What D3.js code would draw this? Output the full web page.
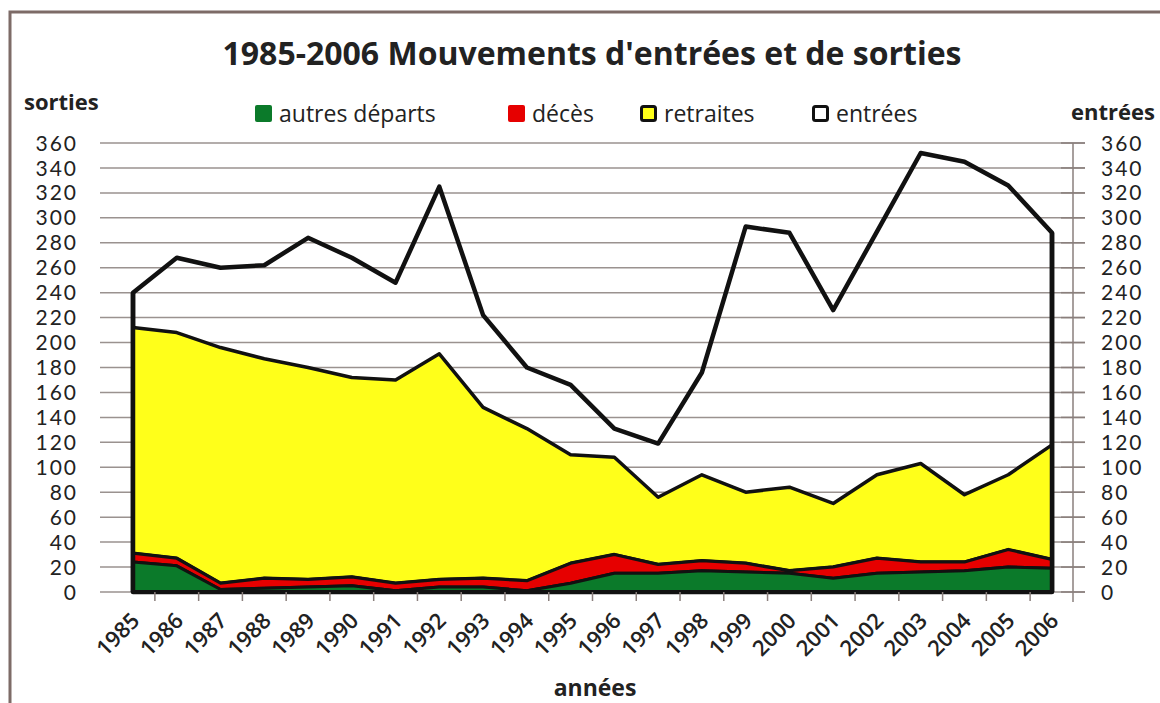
<!DOCTYPE html>
<html>
<head>
<meta charset="utf-8">
<script src="https://cdn.jsdelivr.net/npm/d3@7"></script>
<style>
  body { margin: 0; background: #fff; }
  text { font-family: "Open Sans", Lato, sans-serif; fill: #222; }
  text.num { font-family: Lato, "Open Sans", sans-serif; }
</style>
</head>
<body>
<div id="chart"></div>
<script>
// data
const years = [1985, 1986, 1987, 1988, 1989, 1990, 1991, 1992, 1993, 1994, 1995,
  1996, 1997, 1998, 1999, 2000, 2001, 2002, 2003, 2004, 2005, 2006];
const autresDeparts = [24, 21, 2, 3, 4, 5, 1, 4, 4, 1, 7, 15, 15, 17, 16, 15, 11, 15, 16, 17, 20, 19];
const deces = [7, 6, 5, 8, 6, 7, 6, 6, 7, 8, 16, 15, 7, 8, 7, 2, 9, 12, 8, 7, 14, 7];
const retraites = [181, 181, 189, 176, 170, 160, 163, 181, 137, 122, 87, 78, 54, 69, 57, 67, 51, 67, 79, 54, 60, 92];
const entrees = [240, 268, 260, 262, 284, 268, 248, 325, 222, 180, 166, 131, 119, 176, 293, 288, 226, 289, 352, 345, 326, 288];
const yTicks = d3.range(0, 361, 20);

const width = 1160;
const height = 703;

const svg = d3.select("#chart").append("svg")
  .attr("width", width)
  .attr("height", height)
  .attr("viewBox", [0, 0, width, height]);

// frame
svg.append("path")
  .attr("d", "M10,703 L10,12 L1160,12")
  .attr("fill", "none")
  .attr("stroke", "#7d6b67")
  .attr("stroke-width", 3);

const x = d3.scalePoint().domain(years).range([133, 1052]);
const y = d3.scaleLinear().domain([0, 360]).range([592, 143]);
const step = x.step();

// gridlines
svg.append("g")
  .selectAll("line")
  .data(yTicks)
  .join("line")
  .attr("x1", 100)
  .attr("x2", 1085)
  .attr("y1", d => y(d))
  .attr("y2", d => y(d))
  .attr("stroke", "#9a928f")
  .attr("stroke-width", 1.5);

// entrées: outline only
const entreeArea = d3.area()
  .x((d, i) => x(years[i]))
  .y0(y(0))
  .y1(d => y(d));

svg.append("path")
  .datum(entrees)
  .attr("d", entreeArea)
  .attr("fill", "none")
  .attr("stroke", "#111")
  .attr("stroke-width", 4.5)
  .attr("stroke-linejoin", "round");

// stacked sorties
const table = years.map((yr, i) => ({
  year: yr,
  autres: autresDeparts[i],
  deces: deces[i],
  retraites: retraites[i],
}));
const keys = ["autres", "deces", "retraites"];
const colors = { autres: "#0b7a2a", deces: "#e60000", retraites: "#ffff1a" };
const series = d3.stack().keys(keys)(table);

const area = d3.area()
  .x(d => x(d.data.year))
  .y0(d => y(d[0]))
  .y1(d => y(d[1]));

svg.append("g")
  .selectAll("path")
  .data(series.slice().reverse())
  .join("path")
  .attr("d", area)
  .attr("fill", d => colors[d.key])
  .attr("stroke", "#111")
  .attr("stroke-width", d => d.key === "retraites" ? 3.5 : 3)
  .attr("stroke-linejoin", "round");

// redraw the side edges of the entrées outline over the fills
svg.append("g")
  .selectAll("line")
  .data([0, years.length - 1])
  .join("line")
  .attr("x1", i => x(years[i]))
  .attr("x2", i => x(years[i]))
  .attr("y1", y(0))
  .attr("y2", i => y(entrees[i]))
  .attr("stroke", "#111")
  .attr("stroke-width", 4.5);
svg.append("line")
  .attr("x1", x(years[0]))
  .attr("x2", x(years[years.length - 1]))
  .attr("y1", y(0))
  .attr("y2", y(0))
  .attr("stroke", "#111")
  .attr("stroke-width", 4);

// left axis labels
svg.append("g")
  .selectAll("text")
  .data(yTicks)
  .join("text")
  .attr("class", "num")
  .attr("x", 78)
  .attr("y", d => y(d))
  .attr("dy", "0.36em")
  .attr("text-anchor", "end")
  .attr("font-size", 21)
  .attr("letter-spacing", 2)
  .text(d => d);

// right axis
const rightAxis = svg.append("g").attr("transform", "translate(1073,0)");
rightAxis.append("line")
  .attr("y1", y(360))
  .attr("y2", 602)
  .attr("stroke", "#8a7f7c")
  .attr("stroke-width", 1.5);
rightAxis.selectAll("line.tick")
  .data(yTicks)
  .join("line")
  .attr("class", "tick")
  .attr("x1", -12)
  .attr("x2", 12)
  .attr("y1", d => y(d))
  .attr("y2", d => y(d))
  .attr("stroke", "#8a7f7c")
  .attr("stroke-width", 1.5);
rightAxis.selectAll("text")
  .data(yTicks)
  .join("text")
  .attr("class", "num")
  .attr("x", 28)
  .attr("y", d => y(d))
  .attr("dy", "0.36em")
  .attr("font-size", 21)
  .attr("letter-spacing", 2)
  .text(d => d);

// bottom ticks between categories
svg.append("g")
  .selectAll("line")
  .data(years.slice(0, -1))
  .join("line")
  .attr("x1", d => x(d) + step / 2)
  .attr("x2", d => x(d) + step / 2)
  .attr("y1", y(0))
  .attr("y2", y(0) + 9)
  .attr("stroke", "#8a7f7c")
  .attr("stroke-width", 1.5);

// year labels
svg.append("g")
  .selectAll("text")
  .data(years)
  .join("text")
  .attr("transform", d => `translate(${x(d) + 8},${622}) rotate(-45)`)
  .attr("text-anchor", "end")
  .attr("font-size", 22)
  .attr("font-weight", 600)
  .text(d => d);

// titles
svg.append("text")
  .attr("x", 592)
  .attr("y", 65)
  .attr("text-anchor", "middle")
  .attr("font-size", 32)
  .attr("font-weight", "bold")
  .text("1985-2006 Mouvements d'entrées et de sorties");

svg.append("text")
  .attr("x", 24)
  .attr("y", 110)
  .attr("font-size", 22)
  .attr("font-weight", "bold")
  .text("sorties");

svg.append("text")
  .attr("x", 1155)
  .attr("y", 120)
  .attr("text-anchor", "end")
  .attr("font-size", 22)
  .attr("font-weight", "bold")
  .text("entrées");

svg.append("text")
  .attr("x", 595)
  .attr("y", 696)
  .attr("text-anchor", "middle")
  .attr("font-size", 23)
  .attr("font-weight", "bold")
  .text("années");

// legend
const legendItems = [
  { label: "autres départs", fill: colors.autres, stroke: "none", x: 255 },
  { label: "décès", fill: colors.deces, stroke: "none", x: 508 },
  { label: "retraites", fill: colors.retraites, stroke: "#111", x: 640 },
  { label: "entrées", fill: "#fff", stroke: "#111", x: 812 },
];
const legend = svg.append("g")
  .selectAll("g")
  .data(legendItems)
  .join("g")
  .attr("transform", d => `translate(${d.x},105)`);
legend.append("rect")
  .attr("x", d => d.stroke === "none" ? 0 : 1.5)
  .attr("y", d => d.stroke === "none" ? 0 : 1.5)
  .attr("width", d => d.stroke === "none" ? 17 : 14)
  .attr("height", d => d.stroke === "none" ? 17 : 14)
  .attr("rx", 2)
  .attr("fill", d => d.fill)
  .attr("stroke", d => d.stroke)
  .attr("stroke-width", 3);
legend.append("text")
  .attr("x", 24)
  .attr("y", 8.5)
  .attr("dy", "0.36em")
  .attr("font-size", 23)
  .text(d => d.label);
</script>
</body>
</html>
